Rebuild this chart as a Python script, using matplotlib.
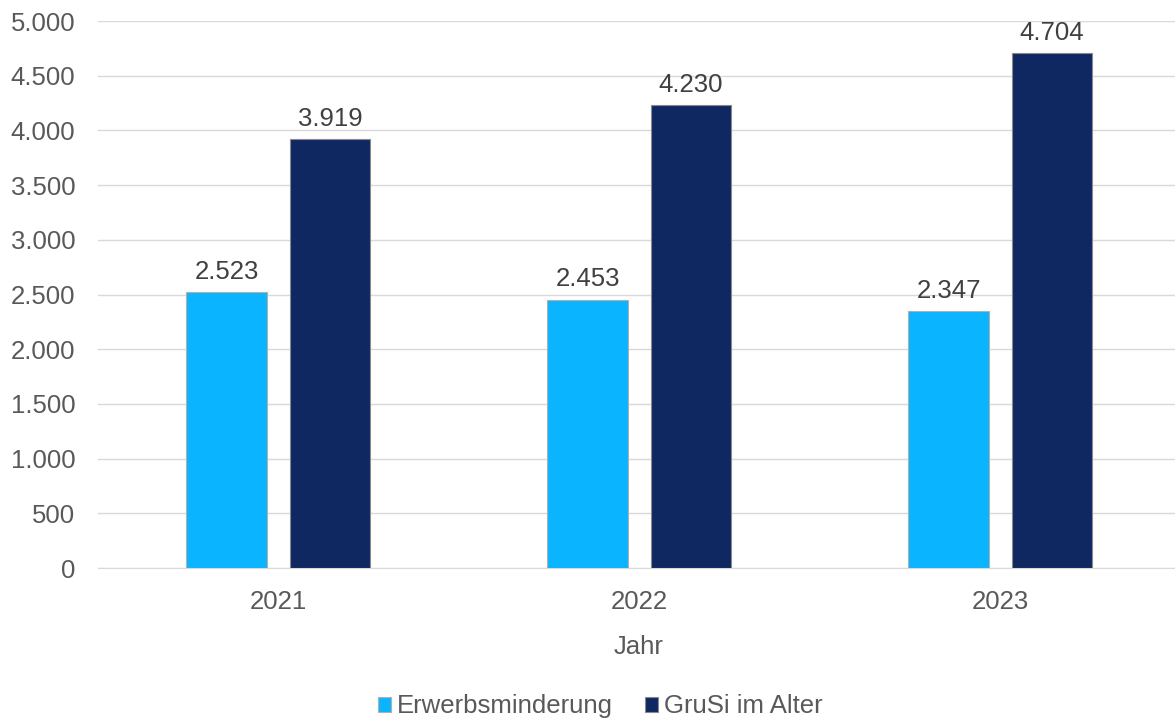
import matplotlib.pyplot as plt
import numpy as np
from matplotlib.ticker import FuncFormatter

plt.rcParams['font.family'] = ['Liberation Sans', 'DejaVu Sans']

years = ['2021', '2022', '2023']
erwerbsminderung = [2523, 2453, 2347]
grusi_alter = [3919, 4230, 4704]

c_light = '#0BB4FF'
c_dark = '#0F2862'
c_text = '#595959'
fs = 18.5


def de_fmt(v):
    return '{:,.0f}'.format(v).replace(',', '.')


fig = plt.figure(figsize=(11.75, 7.2), dpi=100)
ax = fig.add_axes([0.083, 0.2111, 0.9217, 0.7597])

x = np.arange(len(years))
w = 0.224
b1 = ax.bar(x - 0.142, erwerbsminderung, w, color=c_light, edgecolor='#b0b0b0', linewidth=0.8,
            label='Erwerbsminderung', zorder=3)
b2 = ax.bar(x + 0.144, grusi_alter, w, color=c_dark, edgecolor='#8a8a8a', linewidth=0.8,
            label='GruSi im Alter', zorder=3)

for bars, vals in [(b1, erwerbsminderung), (b2, grusi_alter)]:
    for rect, v in zip(bars, vals):
        ax.annotate(de_fmt(v), (rect.get_x() + rect.get_width() / 2, v),
                    xytext=(0, 6), textcoords='offset points',
                    ha='center', va='bottom', fontsize=fs, color='#404040')

ax.set_xlim(-0.5, 2.5)
ax.set_ylim(0, 5000)
ax.set_yticks(np.arange(0, 5001, 500))
ax.yaxis.set_major_formatter(FuncFormatter(lambda v, p: de_fmt(v)))
ax.set_xticks(x)
ax.set_xticklabels(years)
ax.grid(axis='y', color='#d9d9d9', linewidth=1, zorder=0)
for s in ['top', 'right', 'left']:
    ax.spines[s].set_visible(False)
ax.spines['bottom'].set_color('#d9d9d9')
ax.tick_params(axis='both', length=0, labelsize=fs, colors=c_text)
ax.tick_params(axis='x', pad=16)
ax.tick_params(axis='y', pad=16)

ax.set_xlabel('Jahr', fontsize=fs, color=c_text, labelpad=15)

fig.legend(handles=[b1, b2], loc='center', bbox_to_anchor=(0.511, 0.019), ncol=2,
           frameon=False, fontsize=fs, labelcolor=c_text, handlelength=0.5,
           handleheight=0.5, handletextpad=0.25, columnspacing=1.25)

fig.savefig('out.png', dpi=100)
